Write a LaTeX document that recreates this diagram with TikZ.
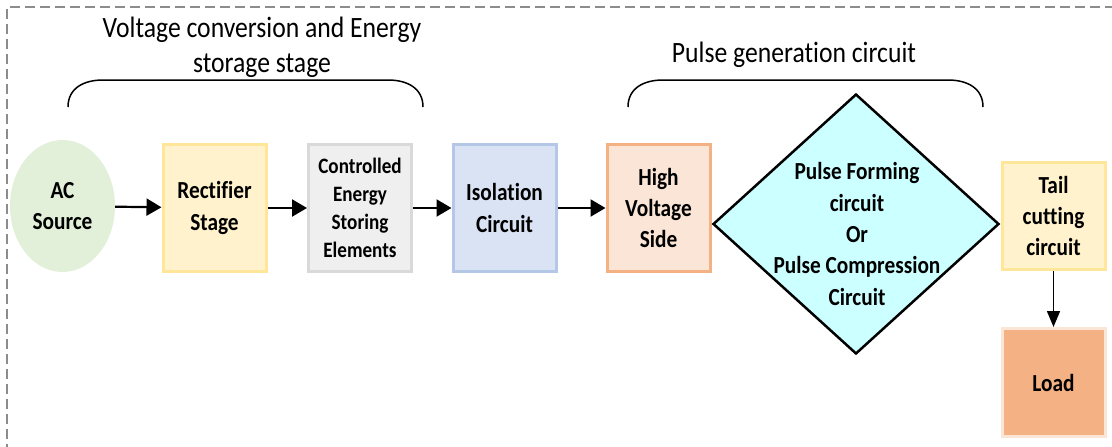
\documentclass[tikz,border=0pt]{standalone}
\usepackage{fontspec}
\setmainfont{Carlito}[FakeStretch=0.87, Ligatures=NoCommon]
\usepackage{xcolor}
\usepackage{tikz}
\usetikzlibrary{positioning, arrows.meta, shapes.geometric}
\definecolor{acgreen}{HTML}{E2F0D9}
\definecolor{recfill}{HTML}{FFF2CC}
\definecolor{recline}{HTML}{FFE699}
\definecolor{cesfill}{HTML}{EFEFEF}
\definecolor{cesline}{HTML}{D9D9D9}
\definecolor{isofill}{HTML}{DAE3F3}
\definecolor{isoline}{HTML}{B4C7E7}
\definecolor{hvfill}{HTML}{FBE5D6}
\definecolor{hvline}{HTML}{F4B183}
\definecolor{pfncyan}{HTML}{CCFFFF}
\definecolor{frame}{HTML}{8C8C8C}
\newcommand{\boxfont}{\fontsize{24.5pt}{31.3pt}\selectfont\bfseries}
\newcommand{\cesfont}{\fontsize{22pt}{28pt}\selectfont\bfseries}
\newcommand{\titlefont}{\fontsize{29.5pt}{35pt}\selectfont}

\begin{document}
\begin{tikzpicture}[x=1pt, y=-1pt,
    box/.style={draw, line width=3pt, minimum width=103pt, minimum height=127pt,
      align=center, font=\boxfont, inner sep=0pt},
    flow/.style={line width=2.2pt, -{Triangle[length=15pt, width=17pt]}},
    title/.style={align=center, font=\titlefont, inner sep=0pt}]
  \clip (0,0) rectangle (1112,447);
  % dashed frame, runs off the right and bottom edges
  \draw[frame, line width=1.3pt, dash pattern=on 10pt off 5pt] (1130,7) -- (7,7) -- (7,460);

  % stage titles and their braces
  \node[title] (vcs) at (262,47) {Voltage conversion and Energy\\storage stage};
  \node[title] (pgc) at (794,55) {Pulse generation circuit};
  \draw[line width=1.5pt] (68,107) .. controls (68,88) and (84,80) .. (103,80)
    -- (388,80) .. controls (407,80) and (423,88) .. (423,107);
  \draw[line width=1.5pt] (628,107) .. controls (628,88) and (644,80) .. (663,80)
    -- (948,80) .. controls (967,80) and (983,88) .. (983,107);

  % main chain
  \node[ellipse, fill=acgreen, minimum width=105pt, minimum height=132pt,
    inner sep=0pt, align=center, font=\boxfont] (ac) at (62.5,206) {AC\\Source};
  \node[box, fill=recfill, draw=recline] (rect) at (214.5,208) {Rectifier\\Stage};
  \node[box, fill=cesfill, draw=cesline, font=\cesfont] (ces) at (360,208)
    {Controlled\\Energy\\Storing\\Elements};
  \node[box, fill=isofill, draw=isoline] (iso) at (504.5,208) {Isolation\\Circuit};
  \node[box, fill=hvfill, draw=hvline] (hv) at (658.5,208) {High\\Voltage\\Side};
  \node[diamond, draw, line width=2.5pt, fill=pfncyan, minimum width=286pt,
    minimum height=260pt, inner sep=0pt] (pfn) at (856,224) {};
  \node[align=center, font=\boxfont, inner sep=0pt] (pfntext) at (857,234)
    {Pulse Forming\\circuit\\Or\\Pulse Compression\\Circuit};
  \node[box, fill=recfill, draw=recline, minimum height=107pt] (tail) at (1053.5,216)
    {Tail\\cutting\\circuit};
  \node[box, fill=hvline, draw=hvfill, minimum height=108pt] (load) at (1053.5,382.5)
    {Load};

  \foreach \a/\b in {ac/rect, rect/ces, ces/iso, iso/hv}
    \draw[flow] (\a) -- (\b);
  \draw[line width=1.6pt, -{Triangle[length=16pt, width=13pt]}] (tail) -- (load);
\end{tikzpicture}
\end{document}
